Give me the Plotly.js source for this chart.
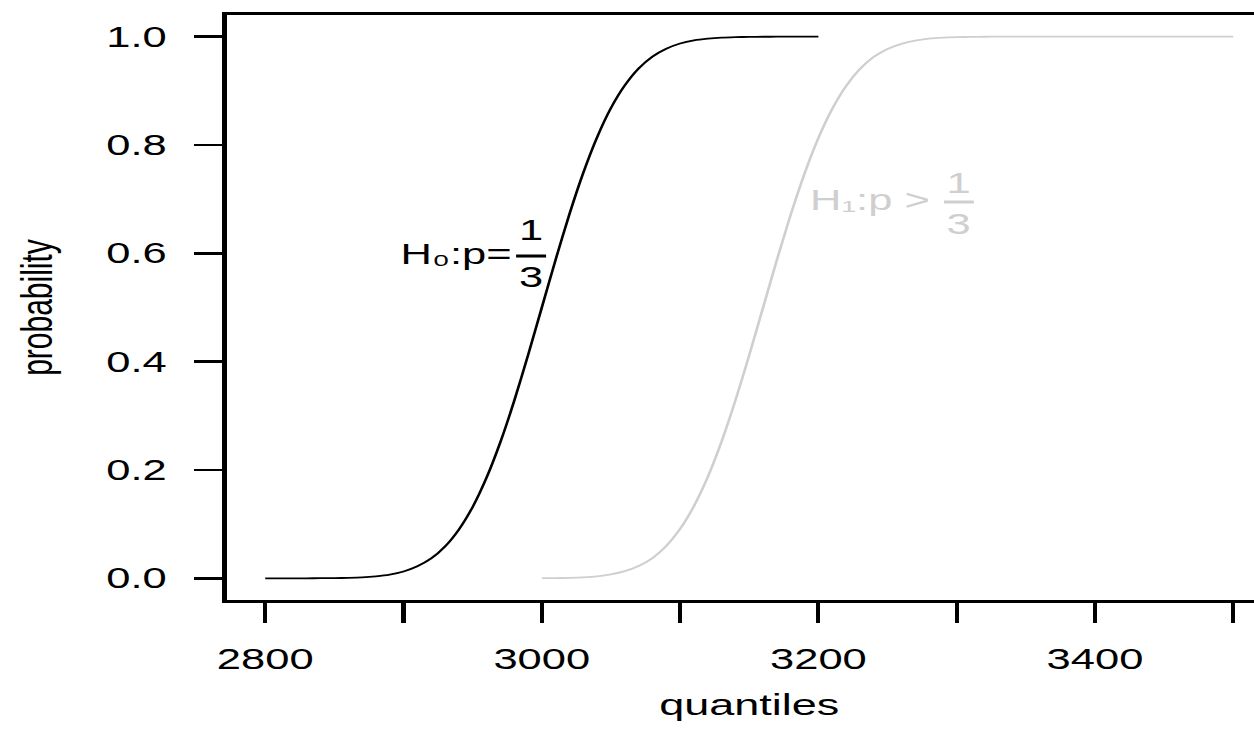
<!DOCTYPE html>
<html>
<head>
<meta charset="utf-8">
<script src="https://cdn.plot.ly/plotly-3.0.1.min.js"></script>
<style>
  html, body { margin: 0; padding: 0; background: #ffffff; overflow: hidden; }
  #frame { width: 1254px; height: 745px; overflow: hidden; position: relative; }
  /* the figure is laid out narrow and widened horizontally */
  #chart { width: 870px; height: 745px; transform: scaleX(1.5); transform-origin: 0 0; }
</style>
</head>
<body>
<div id="frame"><div id="chart"></div></div>
<script>
// Cumulative probability under H0 (p = 1/3)
const h0Quantiles = [2800, 2810, 2820, 2830, 2840, 2850, 2860, 2870, 2880, 2890,
  2900, 2910, 2920, 2930, 2940, 2950, 2960, 2970, 2980, 2990,
  3000, 3010, 3020, 3030, 3040, 3050, 3060, 3070, 3080, 3090,
  3100, 3110, 3120, 3130, 3140, 3150, 3160, 3170, 3180, 3190, 3200];
const h0Prob = [0.000, 0.000, 0.000, 0.0001, 0.0002, 0.0004, 0.0009, 0.0018, 0.0037, 0.0069,
  0.0126, 0.0222, 0.0367, 0.0588, 0.0901, 0.1318, 0.1856, 0.2512, 0.3274, 0.4115,
  0.500, 0.5885, 0.6726, 0.7488, 0.8144, 0.8682, 0.9099, 0.9412, 0.9633, 0.9778,
  0.9874, 0.9931, 0.9963, 0.9982, 0.9991, 0.9996, 0.9998, 0.9999, 1.000, 1.000, 1.000];

// Cumulative probability under H1 (p > 1/3)
const h1Quantiles = [3000, 3010, 3020, 3030, 3040, 3050, 3060, 3070, 3080, 3090,
  3100, 3110, 3120, 3130, 3140, 3150, 3160, 3170, 3180, 3190,
  3200, 3210, 3220, 3230, 3240, 3250, 3260, 3270, 3280, 3290,
  3300, 3310, 3320, 3330, 3340, 3350, 3360, 3370, 3380, 3390,
  3400, 3410, 3420, 3430, 3440, 3450, 3460, 3470, 3480, 3490, 3500];
const h1Prob = [0.0002, 0.0004, 0.0009, 0.0019, 0.0038, 0.0073, 0.0132, 0.0228, 0.0375, 0.0599,
  0.0912, 0.1333, 0.187, 0.2525, 0.3285, 0.412, 0.500, 0.588, 0.6715, 0.7475,
  0.813, 0.8667, 0.9088, 0.9401, 0.9625, 0.9773, 0.9868, 0.9927, 0.9962, 0.9981,
  0.9991, 0.9996, 0.9998, 1.000, 1.000, 1.000, 1.000, 1.000, 1.000, 1.000,
  1.000, 1.000, 1.000, 1.000, 1.000, 1.000, 1.000, 1.000, 1.000, 1.000, 1.000];

// Axis ticks: labelled ticks every 200, unlabelled ones every 100
const xTickVals = [2800, 3000, 3200, 3400];
const xTickText = ['2800', '3000', '3200', '3400'];
const xMinorStep = 100;
const yTickVals = [0, 0.2, 0.4, 0.6, 0.8, 1.0];
const yTickText = ['0.0', '0.2', '0.4', '0.6', '0.8', '1.0'];

const FONT = 'Liberation Sans, Arial, Helvetica, sans-serif';
const LIGHT = '#cfcfcf';

const traces = [
  { x: h0Quantiles, y: h0Prob, type: 'scatter', mode: 'lines',
    line: { color: '#000000', width: 1.8, shape: 'spline', smoothing: 0.6 },
    hoverinfo: 'skip', showlegend: false },
  { x: h1Quantiles, y: h1Prob, type: 'scatter', mode: 'lines',
    line: { color: LIGHT, width: 1.8, shape: 'spline', smoothing: 0.6 },
    hoverinfo: 'skip', showlegend: false }
];

const labelFont = (c) => ({ family: FONT, size: 29, color: c });

const layout = {
  width: 870, height: 745,
  margin: { l: 151, r: 22, t: 15, b: 145 },
  paper_bgcolor: '#ffffff', plot_bgcolor: '#ffffff',
  font: { family: FONT, color: '#000000' },
  showlegend: false,
  xaxis: {
    range: [2772, 3528], showgrid: false, zeroline: false,
    showline: true, mirror: true, linecolor: '#000000', linewidth: 3,
    ticks: 'outside', ticklen: 20, tickwidth: 2.7, tickcolor: '#000000',
    tickvals: xTickVals, ticktext: xTickText,
    minor: { dtick: xMinorStep, tick0: 2800, ticks: 'outside', ticklen: 20,
             tickwidth: 2.7, tickcolor: '#000000', showgrid: false },
    tickfont: { family: FONT, size: 29, color: '#000000' },
    ticklabelstandoff: 11,
    title: { text: 'quantiles', font: { family: FONT, size: 30, color: '#000000' }, standoff: 21 }
  },
  yaxis: {
    range: [-0.04, 1.04], showgrid: false, zeroline: false,
    showline: true, mirror: true, linecolor: '#000000', linewidth: 3,
    ticks: 'outside', ticklen: 19, tickwidth: 2.7, tickcolor: '#000000',
    tickvals: yTickVals, ticktext: yTickText,
    tickfont: { family: FONT, size: 29, color: '#000000' },
    ticklabelstandoff: 12,
    title: { text: 'probability', font: { family: FONT, size: 30, color: '#000000' }, standoff: 27 }
  },
  annotations: [
    // H0 label with stacked fraction
    { x: 2980, y: 0.598, xref: 'x', yref: 'y', text: 'H\u2080:p=', showarrow: false,
      xanchor: 'right', yanchor: 'middle', font: labelFont('#000000') },
    { x: 2992.3, y: 0.643, xref: 'x', yref: 'y', text: '1', showarrow: false,
      xanchor: 'center', yanchor: 'middle', font: labelFont('#000000') },
    { x: 2992.3, y: 0.557, xref: 'x', yref: 'y', text: '3', showarrow: false,
      xanchor: 'center', yanchor: 'middle', font: labelFont('#000000') },
    // H1 label with stacked fraction
    { x: 3191.8, y: 0.699, xref: 'x', yref: 'y', text: 'H\u2081:p >', showarrow: false,
      xanchor: 'left', yanchor: 'middle', font: labelFont(LIGHT) },
    { x: 3301.6, y: 0.730, xref: 'x', yref: 'y', text: '1', showarrow: false,
      xanchor: 'center', yanchor: 'middle', font: labelFont(LIGHT) },
    { x: 3301.6, y: 0.654, xref: 'x', yref: 'y', text: '3', showarrow: false,
      xanchor: 'center', yanchor: 'middle', font: labelFont(LIGHT) }
  ],
  shapes: [
    { type: 'line', xref: 'x', yref: 'y', x0: 2981.4, x1: 3003.1, y0: 0.595, y1: 0.595,
      line: { color: '#000000', width: 3 } },
    { type: 'line', xref: 'x', yref: 'y', x0: 3290.8, x1: 3312.4, y0: 0.695, y1: 0.695,
      line: { color: LIGHT, width: 3 } }
  ]
};

Plotly.newPlot('chart', traces, layout, { displayModeBar: false, staticPlot: true });
</script>
</body>
</html>
